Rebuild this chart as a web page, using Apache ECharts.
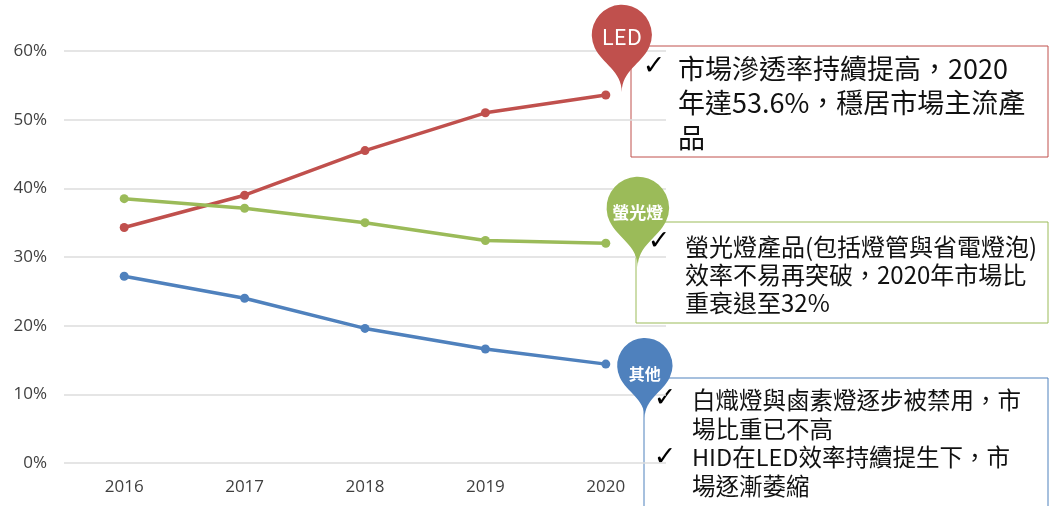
<!DOCTYPE html>
<html>
<head>
<meta charset="utf-8">
<script src="https://cdn.jsdelivr.net/npm/echarts@6/dist/echarts.min.js"></script>
<style>
  body { margin: 0; background: #fff; }
  #chart { width: 1050px; height: 506px; }
</style>
</head>
<body>
<div id="chart"></div>
<script>
// 市場占比 (%)
const years = ['2016', '2017', '2018', '2019', '2020']
const ledShare = [34.3, 39.0, 45.5, 51.0, 53.6]
const cflShare = [38.5, 37.1, 35.0, 32.4, 32.0]
const otherShare = [27.2, 24.0, 19.6, 16.6, 14.4]
const seriesNames = ['LED', '螢光燈', '其他']
const colors = ['#c0504d', '#9bbb59', '#4f81bd']

// 說明文字
const ledNote = ['市場滲透率持續提高，2020', '年達53.6%，穩居市場主流產', '品']
const cflNote = ['螢光燈產品(包括燈管與省電燈泡)', '效率不易再突破，2020年市場比', '重衰退至32%']
const otherNote = ['白熾燈與鹵素燈逐步被禁用，市', '場比重已不高', 'HID在LED效率持續提生下，市', '場逐漸萎縮']

const cjk = '"Noto Sans CJK TC", "Noto Sans", sans-serif'

let chart = echarts.init(document.getElementById('chart'))

function pin (name, x, y, size, offset, fontSize, labelDy, weight) {
  return {
    symbol: 'pin',
    symbolSize: size,
    silent: true,
    label: {
      show: true,
      position: 'inside',
      offset: [0, labelDy],
      formatter: '{b}',
      color: '#fff',
      fontSize: fontSize,
      fontWeight: weight,
      fontFamily: cjk
    },
    data: [{ name: name, coord: [x, y], symbolOffset: offset }]
  }
}

function lineSeries (name, data, color, mp) {
  return {
    name: name,
    type: 'line',
    data: data,
    symbol: 'circle',
    symbolSize: 9,
    color: color,
    lineStyle: { width: 3.5, color: color },
    itemStyle: { color: color },
    markPoint: mp
  }
}

function noteBox (lines, left, top, height, color, textX, textTop, lh, fontSize, checks) {
  let els = [{
    type: 'rect',
    shape: { x: left, y: top, width: 1048 - left, height: height },
    style: { fill: 'none', stroke: color, lineWidth: 1 },
    silent: true
  }, {
    type: 'text',
    style: {
      x: textX,
      y: textTop,
      text: lines.join('\n'),
      fill: '#111',
      fontSize: fontSize,
      fontFamily: cjk,
      lineHeight: lh,
      verticalAlign: 'top'
    },
    silent: true
  }]
  for (let c of checks) {
    els.push({
      type: 'text',
      style: {
        x: c[0],
        y: c[1],
        text: '✓',
        fill: '#000',
        fontSize: 27,
        fontWeight: 'bold',
        fontFamily: '"DejaVu Sans", sans-serif',
        align: 'center',
        verticalAlign: 'middle'
      },
      silent: true
    })
  }
  return els
}

let option = {
  animation: false,
  grid: { left: 64, right: 384, top: 51, bottom: 43 },
  xAxis: {
    type: 'category',
    data: years,
    axisLine: { show: false },
    axisTick: { show: false },
    axisLabel: { color: '#404040', fontSize: 17, margin: 16, fontFamily: '"Open Sans", sans-serif' }
  },
  yAxis: {
    type: 'value',
    min: 0,
    max: 60,
    interval: 10,
    axisLine: { show: false },
    axisTick: { show: false },
    axisLabel: { formatter: '{value}%', color: '#404040', fontSize: 17, margin: 17, fontFamily: '"Open Sans", sans-serif' },
    splitLine: { lineStyle: { color: '#dcdcdc', width: 1.5 } }
  },
  series: [
    lineSeries(seriesNames[0], ledShare, colors[0], pin(seriesNames[0], years[4], ledShare[4], 100, [16, -3], 22, -3, 'normal')),
    lineSeries(seriesNames[1], cflShare, colors[1], pin(seriesNames[1], years[4], cflShare[4], 104, [32, 24], 17, 0, 'bold')),
    lineSeries(seriesNames[2], otherShare, colors[2], pin(seriesNames[2], years[4], otherShare[4], 92, [39, 54], 16, 4, 'bold'))
  ],
  graphic: [].concat(
    noteBox(ledNote, 631, 46, 111, colors[0], 678, 51, 34.5, 27, [[654, 67]]),
    noteBox(cflNote, 636, 222, 101, colors[1], 685, 233, 28, 24, [[659, 242]]),
    noteBox(otherNote, 644, 378, 140, colors[2], 692, 386, 28.5, 23.5, [[665, 399], [665, 458]])
  )
}

chart.setOption(option)
</script>
</body>
</html>
